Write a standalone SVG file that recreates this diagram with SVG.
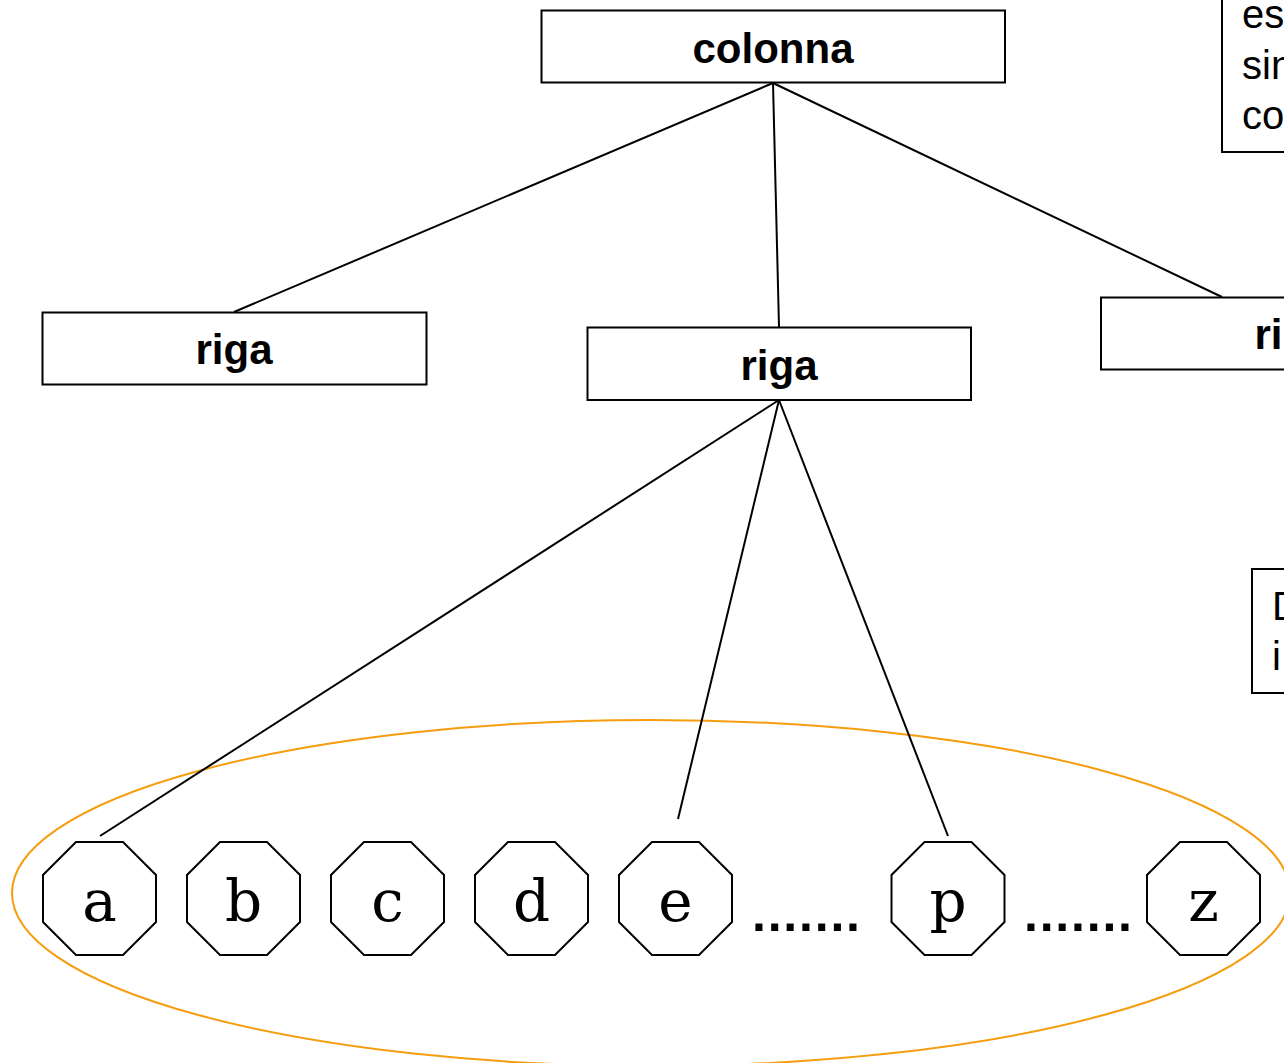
<svg xmlns="http://www.w3.org/2000/svg" width="1284" height="1063" viewBox="0 0 1284 1063">
<style>
.box{fill:#fff;stroke:#000;stroke-width:2}
.lbl{font-family:"Liberation Sans",Arial,sans-serif;font-weight:bold;font-size:42px;text-anchor:middle;fill:#000}
.note{font-family:"Liberation Sans",Arial,sans-serif;font-size:40px;fill:#000}
.oct{fill:#fff;stroke:#000;stroke-width:2}
.let{font-family:"DejaVu Serif","Liberation Serif",serif;font-size:58px;text-anchor:middle;fill:#000}
.dots{font-family:"Liberation Sans",Arial,sans-serif;font-weight:bold;font-size:50px;fill:#000}
.edge{stroke:#000;stroke-width:2;fill:none}
</style>
<defs>
<polygon id="octa" points="-23.5,-56.5 23.5,-56.5 56.5,-23.5 56.5,23.5 23.5,56.5 -23.5,56.5 -56.5,23.5 -56.5,-23.5"/>
</defs>
<rect width="1284" height="1063" fill="#fff"/>
<ellipse id="group-ellipse" cx="651" cy="893" rx="639" ry="173" fill="none" stroke="#f59d0e" stroke-width="2"/>
<g id="connectors">
<line class="edge" x1="773" y1="83" x2="234" y2="312"/>
<line class="edge" x1="773" y1="83" x2="779" y2="327"/>
<line class="edge" x1="773" y1="83" x2="1222" y2="297"/>
<line class="edge" x1="779" y1="400" x2="100" y2="836"/>
<line class="edge" x1="779" y1="400" x2="678" y2="819"/>
<line class="edge" x1="779" y1="400" x2="948" y2="836"/>
</g>
<g id="note1">
<rect class="box" x="1222" y="-10" width="100" height="162"/>
<text class="note" x="1242" y="28">es</text>
<text class="note" x="1242" y="79">sin</text>
<text class="note" x="1242" y="129">co</text>
</g>
<g id="note2">
<rect class="box" x="1252" y="569" width="100" height="124"/>
<text class="note" x="1272" y="620">D</text>
<text class="note" x="1272" y="670">i</text>
</g>
<g id="colonna">
<rect class="box" x="541.5" y="10.5" width="463.5" height="72"/>
<text class="lbl" x="773" y="63">colonna</text>
</g>
<g id="riga-left">
<rect class="box" x="42.5" y="312.5" width="384" height="72"/>
<text class="lbl" x="234" y="364">riga</text>
</g>
<g id="riga-mid">
<rect class="box" x="587.5" y="327.5" width="383.5" height="72.5"/>
<text class="lbl" x="779" y="380">riga</text>
</g>
<g id="riga-right">
<rect class="box" x="1101" y="297.5" width="384" height="72"/>
<text class="lbl" x="1293" y="349">riga</text>
</g>
<g id="node-a"><use href="#octa" class="oct" x="99.5" y="898.5"/><text class="let" x="99.5" y="921">a</text></g>
<g id="node-b"><use href="#octa" class="oct" x="243.5" y="898.5"/><text class="let" x="243.5" y="921">b</text></g>
<g id="node-c"><use href="#octa" class="oct" x="387.5" y="898.5"/><text class="let" x="387.5" y="921">c</text></g>
<g id="node-d"><use href="#octa" class="oct" x="531.5" y="898.5"/><text class="let" x="531.5" y="921">d</text></g>
<g id="node-e"><use href="#octa" class="oct" x="675.5" y="898.5"/><text class="let" x="675.5" y="921">e</text></g>
<g id="node-p"><use href="#octa" class="oct" x="948" y="898.5"/><text class="let" x="948" y="921">p</text></g>
<g id="node-z"><use href="#octa" class="oct" x="1203.5" y="898.5"/><text class="let" x="1203.5" y="921">z</text></g>
<text class="dots" x="752" y="931" textLength="108" lengthAdjust="spacing">.......</text>
<text class="dots" x="1024" y="931" textLength="108" lengthAdjust="spacing">.......</text>
</svg>
